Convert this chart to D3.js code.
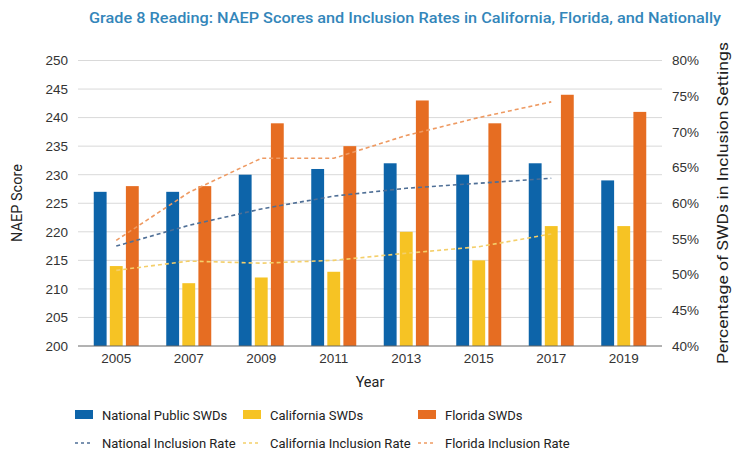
<!DOCTYPE html>
<html>
<head>
<meta charset="utf-8">
<script src="https://cdn.jsdelivr.net/npm/d3@7"></script>
<style>
  body { margin: 0; background: #fff; }
  svg { font-family: Roboto, "Noto Sans", sans-serif; }
</style>
</head>
<body>
<svg id="chart" width="735" height="452"></svg>
<script>
var years = ['2005', '2007', '2009', '2011', '2013', '2015', '2017', '2019'];

var nationalScores = [227, 227, 230, 231, 232, 230, 232, 229];
var californiaScores = [214, 211, 212, 213, 220, 215, 221, 221];
var floridaScores = [228, 228, 239, 235, 243, 239, 244, 241];

// inclusion rates stop at 2017
var nationalRates = [54.0, 56.9, 59.2, 61.0, 62.1, 62.8, 63.5];
var californiaRates = [50.6, 51.9, 51.6, 52.0, 53.0, 53.9, 55.7];
var floridaRates = [54.8, 61.5, 66.3, 66.3, 69.5, 72.0, 74.2];

var scoreTicks = [200, 205, 210, 215, 220, 225, 230, 235, 240, 245, 250];
var rateTicks = [40, 45, 50, 55, 60, 65, 70, 75, 80];

var colors = {
  national: '#0d64a9',
  california: '#f6c324',
  florida: '#e66d22'
};

var svg = d3.select('#chart');
var margin = { left: 80, right: 660, top: 60.5, bottom: 346 };

var x = d3.scaleBand().domain(years).range([margin.left, margin.right]);
var xInner = d3.scaleBand()
  .domain(['national', 'california', 'florida'])
  .range([0, 45])
  .paddingInner(0.2);
var yScore = d3.scaleLinear().domain([200, 250]).range([margin.bottom, margin.top]);
var yRate = d3.scaleLinear().domain([40, 80]).range([margin.bottom, margin.top]);

// title
svg.append('text')
  .attr('x', 405)
  .attr('y', 23)
  .attr('text-anchor', 'middle')
  .attr('fill', '#3386ba')
  .attr('textLength', 632)
  .attr('lengthAdjust', 'spacingAndGlyphs')
  .style('font-size', '15.5px')
  .style('font-weight', 500)
  .text('Grade 8 Reading: NAEP Scores and Inclusion Rates in California, Florida, and Nationally');

// grid
svg.append('g')
  .selectAll('line')
  .data(scoreTicks.slice(1))
  .enter().append('line')
  .attr('x1', 78).attr('x2', 662)
  .attr('y1', d => yScore(d)).attr('y2', d => yScore(d))
  .attr('stroke', '#d9d9d9')
  .attr('stroke-width', 1);

// left axis
var leftAxis = svg.append('g')
  .attr('transform', 'translate(78,0)')
  .call(d3.axisLeft(yScore).tickValues(scoreTicks).tickSize(0).tickPadding(10));
leftAxis.select('.domain').remove();

// right axis
var rightAxis = svg.append('g')
  .attr('transform', 'translate(662,0)')
  .call(d3.axisRight(yRate).tickValues(rateTicks).tickSize(0).tickPadding(10)
    .tickFormat(d => d + '%'));
rightAxis.select('.domain').remove();

// bottom axis
var bottomAxis = svg.append('g')
  .attr('transform', 'translate(0,' + margin.bottom + ')')
  .call(d3.axisBottom(x).tickSize(0).tickPadding(7));
bottomAxis.select('.domain').remove();

svg.selectAll('.tick text')
  .attr('fill', '#333')
  .style('font-size', '13.5px');

// bars
var series = [
  { key: 'national', values: nationalScores },
  { key: 'california', values: californiaScores },
  { key: 'florida', values: floridaScores }
];

series.forEach(function(s) {
  svg.append('g')
    .selectAll('rect')
    .data(s.values)
    .enter().append('rect')
    .attr('x', (d, i) => x(years[i]) + x.bandwidth() / 2 - 22.5 + xInner(s.key))
    .attr('y', d => yScore(d))
    .attr('width', xInner.bandwidth())
    .attr('height', d => yScore(200) - yScore(d))
    .attr('fill', colors[s.key]);
});

// baseline
svg.append('line')
  .attr('x1', 78).attr('x2', 662)
  .attr('y1', margin.bottom).attr('y2', margin.bottom)
  .attr('stroke', '#666')
  .attr('stroke-width', 1);

// inclusion lines
var lineSeries = [
  { key: 'national', values: nationalRates, color: '#4f6f96' },
  { key: 'california', values: californiaRates, color: '#f4cf6a' },
  { key: 'florida', values: floridaRates, color: '#ee9a62' }
];

var line = d3.line()
  .x((d, i) => x(years[i]) + x.bandwidth() / 2)
  .y(d => yRate(d));

lineSeries.forEach(function(s) {
  svg.append('path')
    .datum(s.values)
    .attr('d', line)
    .attr('fill', 'none')
    .attr('stroke', s.color)
    .attr('stroke-width', 1.6)
    .attr('stroke-dasharray', '4,3');
});

// axis titles
svg.append('text')
  .attr('transform', 'translate(22,203) rotate(-90)')
  .attr('text-anchor', 'middle')
  .attr('fill', '#222')
  .style('font-size', '14.5px')
  .text('NAEP Score');

svg.append('text')
  .attr('transform', 'translate(728,203) rotate(-90)')
  .attr('text-anchor', 'middle')
  .attr('fill', '#222')
  .attr('textLength', 322)
  .attr('lengthAdjust', 'spacingAndGlyphs')
  .style('font-size', '15px')
  .text('Percentage of SWDs in Inclusion Settings');

svg.append('text')
  .attr('x', 370)
  .attr('y', 387)
  .attr('text-anchor', 'middle')
  .attr('fill', '#222')
  .style('font-size', '14.5px')
  .text('Year');

// legend
var legendItems = [
  { label: 'National Public SWDs', color: colors.national, type: 'bar', col: 0, row: 0 },
  { label: 'California SWDs', color: colors.california, type: 'bar', col: 1, row: 0 },
  { label: 'Florida SWDs', color: colors.florida, type: 'bar', col: 2, row: 0 },
  { label: 'National Inclusion Rate', color: '#4f6f96', type: 'line', col: 0, row: 1 },
  { label: 'California Inclusion Rate', color: '#f4cf6a', type: 'line', col: 1, row: 1 },
  { label: 'Florida Inclusion Rate', color: '#ee9a62', type: 'line', col: 2, row: 1 }
];
var colX = [75, 243, 418];
var rowY = [415, 443];

var legend = svg.append('g');
legendItems.forEach(function(item) {
  var g = legend.append('g')
    .attr('transform', 'translate(' + colX[item.col] + ',' + rowY[item.row] + ')');
  if (item.type === 'bar') {
    g.append('rect')
      .attr('x', 0).attr('y', -5)
      .attr('width', 18).attr('height', 9)
      .attr('fill', item.color);
  } else {
    g.append('line')
      .attr('x1', 0).attr('x2', 18)
      .attr('y1', 0).attr('y2', 0)
      .attr('stroke', item.color)
      .attr('stroke-width', 1.5)
      .attr('stroke-dasharray', '3,3');
  }
  g.append('text')
    .attr('x', 27)
    .attr('y', 5)
    .attr('fill', '#222')
    .style('font-size', '13px')
    .text(item.label);
});
</script>
</body>
</html>
